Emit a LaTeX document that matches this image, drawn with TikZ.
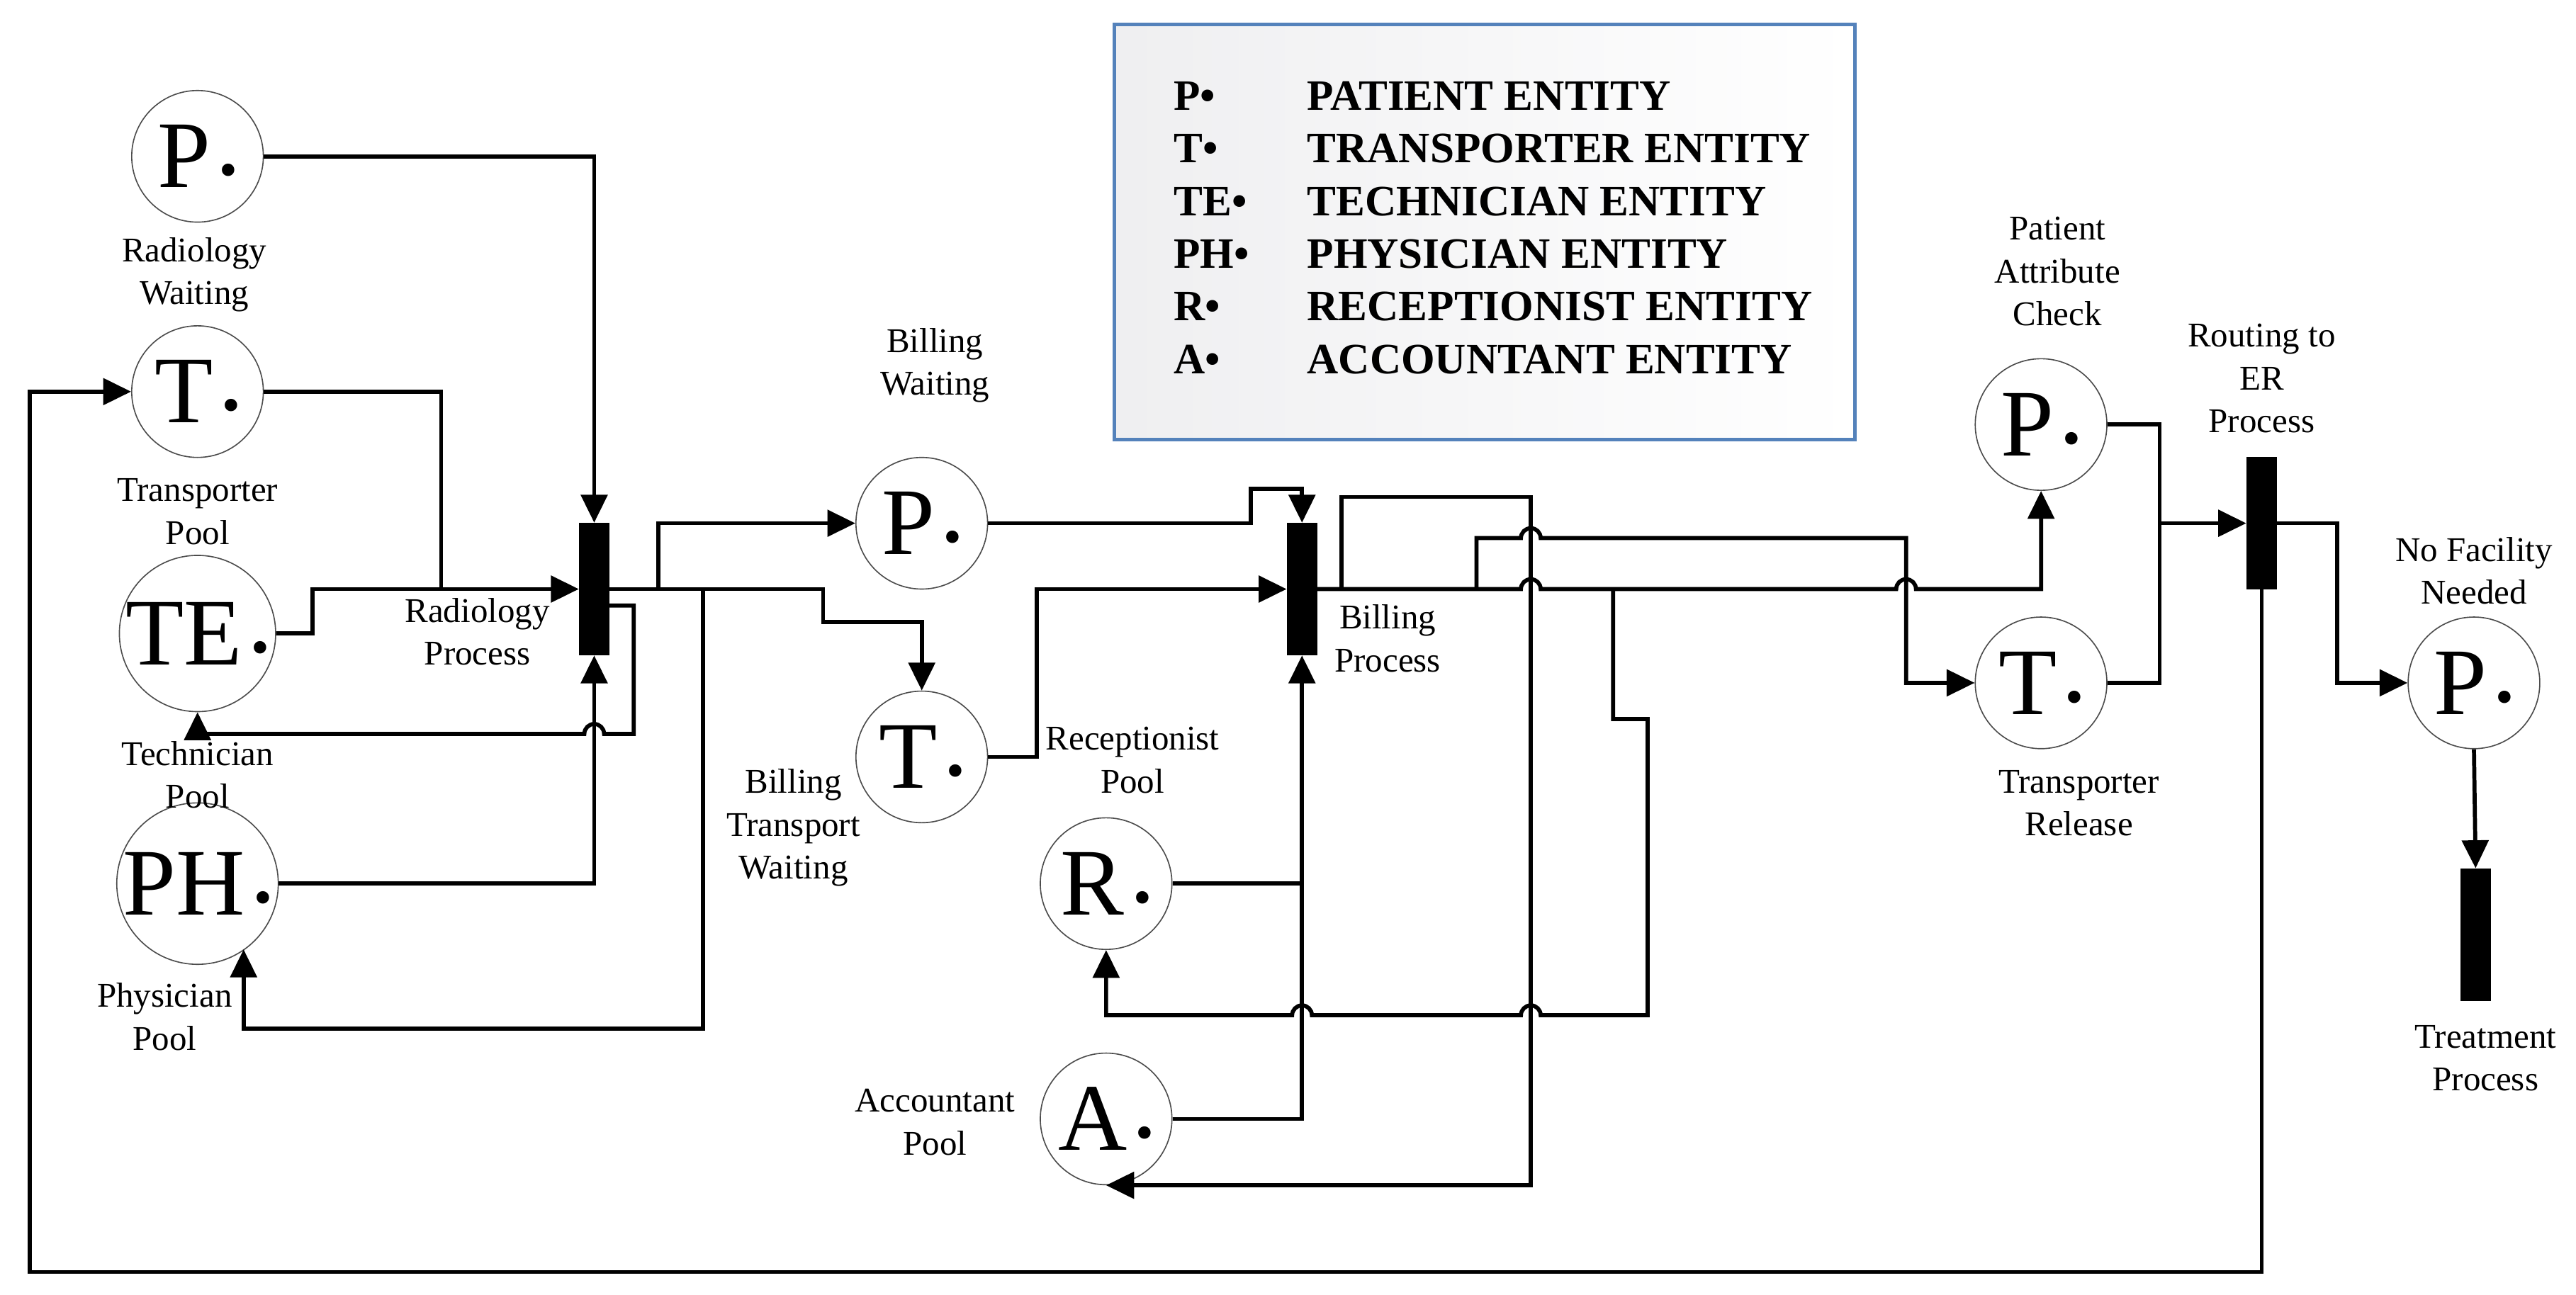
\documentclass[tikz,border=0pt]{standalone}
\usepackage{fontspec}
\setmainfont{Liberation Serif}
\usetikzlibrary{positioning, arrows.meta, shapes}
\definecolor{legendblue}{RGB}{84,130,187}
\newcommand{\tok}[1]{{\fontsize{33}{33}\selectfont #1}{\fontsize{18}{18}\selectfont\,•}}

\begin{document}
\begin{tikzpicture}[
    x=0.02cm, y=-0.02cm,
    % GLOBAL CFG
    font=\fontsize{12}{14.8}\selectfont,
    >={Triangle[length=3.4mm,width=3.2mm]},
    % Styles
    place/.style={% For places (entity pools)
        circle,
        draw=black!70,
        line width=.4pt,
        minimum size=1.6cm,
        inner sep=0pt,
    },
    bar/.style={% For transitions
        rectangle,
        draw=black,
        fill=black,
        minimum width=.36cm,
        minimum height=1.6cm,
        inner sep=0pt,
    },
    mylabel/.style={
        align=center,
        font=\fontsize{12}{14.8}\selectfont
    },
    wire/.style={% Connectors
        line width=1.4pt,
    },
    legend/.style={
        font=\fontsize{15}{18}\selectfont\bfseries,
        anchor=base west
    },
    ]

    \useasboundingbox (0,0) rectangle (1565,787);

    % Draw legend
    \shade[left color=blue!6!gray!12, right color=white, draw=legendblue, line width=1.2pt]
        (677,15) rectangle (1127,267);
    \foreach \y/\s/\t [count=\i] in {67/P/PATIENT ENTITY, 99/T/TRANSPORTER ENTITY, 131/TE/TECHNICIAN ENTITY,
        163/PH/PHYSICIAN ENTITY, 195/R/RECEPTIONIST ENTITY, 227/A/ACCOUNTANT ENTITY}{
        \node[legend] (ls\i) at (707,\y) {\s•};
        \node[legend] (lt\i) at (788,\y) {\t};
    }

    % Draw places
    \node[place] (prad) at (120,95) {\tok{P}};
    \node[place] (tpool) at (120,238) {\tok{T}};
    \node[place] (tepool) at (120,385) {\tok{TE}};
    \node[place] (phpool) at (120,537) {\tok{PH}};
    \node[place] (pbill) at (560,318) {\tok{P}};
    \node[place] (tbill) at (560,460) {\tok{T}};
    \node[place] (rpool) at (672,537) {\tok{R}};
    \node[place] (apool) at (672,680) {\tok{A}};
    \node[place] (pcheck) at (1240,258) {\tok{P}};
    \node[place] (trel) at (1240,415) {\tok{T}};
    \node[place] (pnofac) at (1503,415) {\tok{P}};

    % Draw transitions
    \node[bar] (radbar) at (361,358) {};
    \node[bar] (billbar) at (791,358) {};
    \node[bar] (erbar) at (1374,318) {};
    \node[bar] (treatbar) at (1504,568) {};

    % Labels
    \node[mylabel] at (118,167) {Radiology\\Waiting};
    \node[mylabel] at (120,311) {Transporter\\Pool};
    \node[mylabel] at (120,471) {Technician\\Pool};
    \node[mylabel] at (100,618) {Physician\\Pool};
    \node[mylabel] at (290,384) {Radiology\\Process};
    \node[mylabel] at (568,222) {Billing\\Waiting};
    \node[mylabel] at (482,503) {Billing\\Transport\\Waiting};
    \node[mylabel] at (688,462) {Receptionist\\Pool};
    \node[mylabel] at (843,388) {Billing\\Process};
    \node[mylabel] at (568,682) {Accountant\\Pool};
    \node[mylabel] at (1250,165) {Patient\\Attribute\\Check};
    \node[mylabel] at (1374,230) {Routing to\\ER\\Process};
    \node[mylabel] at (1263,488) {Transporter\\Release};
    \node[mylabel] at (1503,347) {No Facility\\Needed};
    \node[mylabel] at (1510,643) {Treatment\\Process};

    % Connect all
    % Radiology inputs
    \draw[wire, ->] (prad.east) -| (radbar.north);
    \draw[wire] (tpool.east) -| (268,358);
    \draw[wire, ->] (tepool.east) -- (190,385) |- (radbar.west);
    \draw[wire, ->] (phpool.east) -| (radbar.south);
    % Radiology outputs
    \draw[wire, ->] (370,368) -- (385,368) -- (385,446)
        -- (367,446) arc[start angle=0, end angle=180, radius=.12cm] -| (tepool.south);
    \draw[wire, ->] (radbar.east) -- (400,358) |- (pbill.west);
    \draw[wire, ->] (400,358) -- (500,358) -- (500,378) -| (tbill.north);
    \draw[wire, ->] (427,358) |- (148,625) -- (148,577);

    % Billing inputs
    \draw[wire, ->] (pbill.east) -- (760,318) -- (760,297) -| (billbar.north);
    \draw[wire, ->] (tbill.east) -- (630,460) |- (billbar.west);
    \draw[wire] (rpool.east) -- (791,537);
    \draw[wire, ->] (apool.east) -| (billbar.south);

    % Billing outputs
    \draw[wire, ->] (billbar.east) -- (924,358) arc[start angle=180, end angle=0, radius=.12cm]
        -- (1152,358) arc[start angle=180, end angle=0, radius=.12cm] -| (pcheck.south);
    \draw[wire, ->] (815,358) -- (815,302) -- (930,302) |- (apool.south);
    \draw[wire, ->] (897,358) -- (897,327) -- (924,327) arc[start angle=180, end angle=0, radius=.12cm]
        -- (1158,327) |- (trel.west);
    \draw[wire, ->] (980,358) -- (980,437) -- (1001,437) -- (1001,617)
        -- (936,617) arc[start angle=0, end angle=180, radius=.12cm]
        -- (797,617) arc[start angle=0, end angle=180, radius=.12cm] -| (rpool.south);

    % Routing to ER
    \draw[wire] (pcheck.east) -- (1312,258) |- (trel.east);
    \draw[wire, ->] (1312,318) -- (erbar.west);
    \draw[wire, ->] (erbar.east) -- (1420,318) |- (pnofac.west);
    \draw[wire, ->] (pnofac.south) -- (treatbar.north);
    \draw[wire, ->] (erbar.south) -- (1374,773) -| (18,238) -- (tpool.west);

\end{tikzpicture}
\end{document}
